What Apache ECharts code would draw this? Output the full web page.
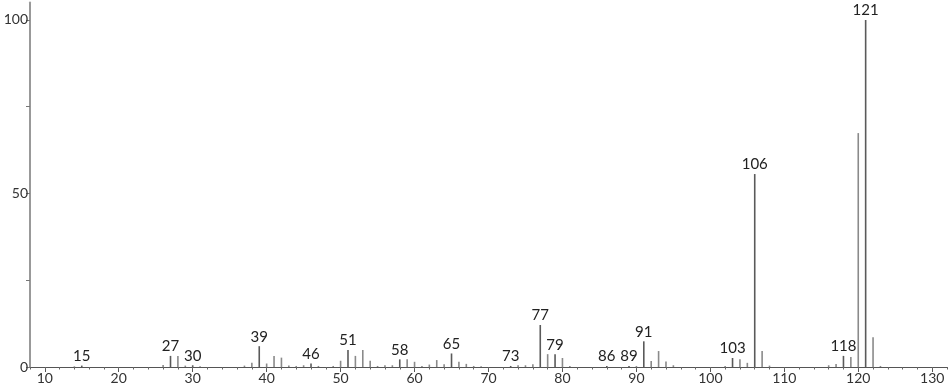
<!DOCTYPE html>
<html>
<head>
<meta charset="utf-8">
<script src="https://cdn.jsdelivr.net/npm/echarts@6/dist/echarts.min.js"></script>
<style>
html,body{margin:0;padding:0;background:#fff;}
#chart{width:951px;height:389px;}
</style>
</head>
<body>
<div id="chart"></div>
<script>
// m/z values and relative intensities
const mzValues = [14, 15, 26, 27, 28, 29, 30, 31, 37, 38, 39, 40, 41, 42, 43, 44, 45, 46, 47, 49, 50, 51, 52, 53, 54, 55, 56, 57, 58, 59, 60, 61, 62, 63, 64, 65, 66, 67, 68, 69, 73, 74, 75, 76, 77, 78, 79, 80, 81, 86, 89, 90, 91, 92, 93, 94, 95, 102, 103, 104, 105, 106, 107, 108, 116, 117, 118, 119, 120, 121, 122, 123];
const intensities = [0.2, 0.4, 0.6, 3.2, 3.2, 0.4, 0.5, 0.2, 0.4, 1.2, 6.0, 1.0, 3.2, 2.7, 0.4, 0.3, 0.5, 1.0, 0.3, 0.3, 1.8, 4.9, 3.2, 4.9, 1.8, 0.3, 0.5, 0.5, 2.2, 2.2, 1.5, 0.3, 0.7, 2.0, 0.8, 3.9, 1.5, 0.9, 0.3, 0.2, 0.3, 0.5, 0.5, 0.8, 12.1, 3.7, 3.7, 2.6, 0.3, 0.3, 0.3, 0.3, 7.4, 1.7, 4.6, 1.6, 0.5, 0.3, 2.6, 2.2, 1.2, 55.6, 4.6, 0.4, 0.5, 0.9, 3.2, 2.9, 67.4, 100, 8.6, 0.3];
const labelledPeaks = [15, 27, 30, 39, 46, 51, 58, 65, 73, 77, 79, 86, 89, 91, 103, 106, 118, 121];
const xTickLabels = [10, 20, 30, 40, 50, 60, 70, 80, 90, 100, 110, 120, 130];
const yTickLabels = [0, 50, 100];
const yMinorTicks = [0, 25, 50, 75, 100];

const FONT = 'Lato';
const data = mzValues.map((m, i) => {
  const lab = labelledPeaks.includes(m);
  return {
    value: [m, intensities[i]],
    itemStyle: { color: lab ? '#5a5a5a' : '#8a8a8a' },
    label: { show: lab }
  };
});

const chart = echarts.init(document.getElementById('chart'));
chart.setOption({
  animation: false,
  backgroundColor: '#fff',
  grid: { left: 30, right: 4, top: 2.6, bottom: 22 },
  xAxis: [
    {
      type: 'value', min: 8, max: 132,
      axisLine: { show: true, lineStyle: { color: '#555', width: 1 } },
      axisTick: { show: true, length: 5, customValues: xTickLabels, lineStyle: { color: '#555' } },
      axisLabel: { customValues: xTickLabels, color: '#333', fontFamily: FONT, fontSize: 14, margin: 4 },
      splitLine: { show: false }
    },
    {
      type: 'value', min: 8, max: 132, interval: 2, position: 'bottom',
      axisLine: { show: false },
      axisTick: { show: true, length: 2.5, lineStyle: { color: '#666' } },
      axisLabel: { show: false },
      splitLine: { show: false }
    }
  ],
  yAxis: {
    type: 'value', min: 0, max: 105,
    axisLine: { show: true, lineStyle: { color: '#999', width: 2 } },
    axisTick: { show: true, length: 4, customValues: yMinorTicks, lineStyle: { color: '#777' } },
    axisLabel: { customValues: yTickLabels, color: '#333', fontFamily: FONT, fontSize: 14, margin: 2 },
    splitLine: { show: false }
  },
  series: [{
    type: 'bar',
    xAxisIndex: 0,
    barWidth: 1.6,
    data: data,
    label: {
      position: 'top', distance: 2,
      color: '#222', fontFamily: FONT, fontSize: 15,
      formatter: p => String(p.value[0])
    }
  }]
});
</script>
</body>
</html>
